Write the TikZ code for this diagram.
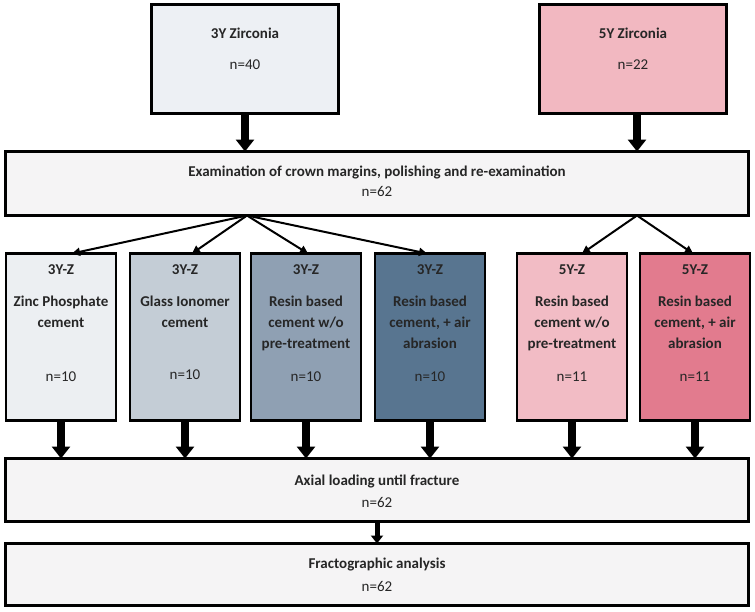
\documentclass[tikz,border=0pt]{standalone}
\usepackage{fontspec}
\setmainfont{Carlito}
\usetikzlibrary{arrows.meta, calc, positioning}

\definecolor{txt}{HTML}{262626}
\definecolor{zthree}{HTML}{EDF0F4}
\definecolor{zfive}{HTML}{F2B8C1}
\definecolor{stepgray}{HTML}{F5F4F5}
\definecolor{grpA}{HTML}{ECEFF2}
\definecolor{grpB}{HTML}{C4CDD6}
\definecolor{grpC}{HTML}{8FA0B3}
\definecolor{grpD}{HTML}{587590}
\definecolor{grpE}{HTML}{F2BCC5}
\definecolor{grpF}{HTML}{E27B8E}

\begin{document}
\begin{tikzpicture}[x=1pt, y=-1pt,
  every node/.style={font=\fontsize{15}{21}\selectfont, text=txt, inner sep=0pt, outer sep=0pt},
  head/.style={font=\fontsize{15}{21}\selectfont\bfseries},
  topbox/.style={draw=black, line width=2.8pt, minimum width=187pt, minimum height=109pt},
  widebox/.style={draw=black, line width=2.8pt, fill=stepgray, minimum width=743pt, minimum height=#1},
  grpbox/.style={draw=black, line width=2.8pt, minimum width=110pt, minimum height=167pt},
  fatarrow/.style={line width=8pt, -{Triangle[length=12pt,width=18pt]}},
  thinarrow/.style={line width=5pt, -{Triangle[length=8pt,width=12pt]}},
  fanarrow/.style={line width=2pt, -{Triangle[length=8pt,width=8pt]}}]
  \useasboundingbox (0,0) rectangle (755,611);

  % starting material
  \node[topbox, fill=zthree] (z3) at (245,59) {};
  \node[head] (z3t) at (245,33) {3Y Zirconia};
  \node (z3n) at (245,65) {n=40};
  \node[topbox, fill=zfive] (z5) at (633,59) {};
  \node[head] (z5t) at (633,33) {5Y Zirconia};
  \node (z5n) at (633,65) {n=22};

  % examination
  \node[widebox=64pt] (exam) at (377,183.5) {};
  \node[head] (examt) at (377,172) {Examination of crown margins, polishing and re-examination};
  \node (examn) at (377,191.5) {n=62};
  \draw[fatarrow] (z3.south) -- (z3.south |- exam.north);
  \draw[fatarrow] ([xshift=4pt]z5.south) -- ([xshift=4pt]z5.south |- exam.north);

  % test groups
  \node[grpbox, fill=grpA] (g1) at (61,337) {};
  \node[grpbox, fill=grpB] (g2) at (185,337) {};
  \node[grpbox, fill=grpC] (g3) at (306,337) {};
  \node[grpbox, fill=grpD] (g4) at (430,337) {};
  \node[grpbox, fill=grpE] (g5) at (572,337) {};
  \node[grpbox, fill=grpF] (g6) at (695,337) {};

  \node[head] (g1t) at (61,270) {3Y-Z};
  \node[head, align=center, anchor=north] (g1d) at (61,296) {Zinc Phosphate\\cement};
  \node (g1n) at (61,377) {n=10};
  \node[head] (g2t) at (185,270) {3Y-Z};
  \node[head, align=center, anchor=north] (g2d) at (185,296) {Glass Ionomer\\cement};
  \node (g2n) at (185,375) {n=10};
  \node[head] (g3t) at (306,270) {3Y-Z};
  \node[head, align=center, anchor=north] (g3d) at (306,296) {Resin based\\cement w/o\\pre-treatment};
  \node (g3n) at (306,377) {n=10};
  \node[head] (g4t) at (430,270) {3Y-Z};
  \node[head, align=center, anchor=north] (g4d) at (430,296) {Resin based\\cement, + air\\abrasion};
  \node (g4n) at (430,377) {n=10};
  \node[head] (g5t) at (572,270) {5Y-Z};
  \node[head, align=center, anchor=north] (g5d) at (572,296) {Resin based\\cement w/o\\pre-treatment};
  \node (g5n) at (572,377) {n=11};
  \node[head] (g6t) at (695,270) {5Y-Z};
  \node[head, align=center, anchor=north] (g6d) at (695,296) {Resin based\\cement, + air\\abrasion};
  \node (g6n) at (695,377) {n=11};

  \coordinate (fanL) at ([xshift=-130pt]exam.south);
  \coordinate (fanR) at ([xshift=260pt]exam.south);
  \draw[fanarrow] (fanL) -- ([xshift=11pt]g1.north);
  \draw[fanarrow] (fanL) -- ([xshift=7pt]g2.north);
  \draw[fanarrow] (fanL) -- ([xshift=2pt]g3.north);
  \draw[fanarrow] (fanL) -- ([xshift=-3pt]g4.north);
  \draw[fanarrow] (fanR) -- ([xshift=10pt]g5.north);
  \draw[fanarrow] (fanR) -- ([xshift=-2pt]g6.north);

  % loading and analysis
  \node[widebox=63pt] (axial) at (377,490) {};
  \node[head] (axialt) at (377,481) {Axial loading until fracture};
  \node (axialn) at (377,502) {n=62};
  \node[widebox=62pt] (fract) at (377,574.5) {};
  \node[head] (fractt) at (377,564) {Fractographic analysis};
  \node (fractn) at (377,586) {n=62};

  \draw[fatarrow] (g1.south) -- (g1.south |- axial.north);
  \draw[fatarrow] (g2.south) -- (g2.south |- axial.north);
  \draw[fatarrow] (g3.south) -- (g3.south |- axial.north);
  \draw[fatarrow] (g4.south) -- (g4.south |- axial.north);
  \draw[fatarrow] (g5.south) -- (g5.south |- axial.north);
  \draw[fatarrow] (g6.south) -- (g6.south |- axial.north);
  \draw[thinarrow] (axial.south) -- (fract.north);
\end{tikzpicture}
\end{document}
